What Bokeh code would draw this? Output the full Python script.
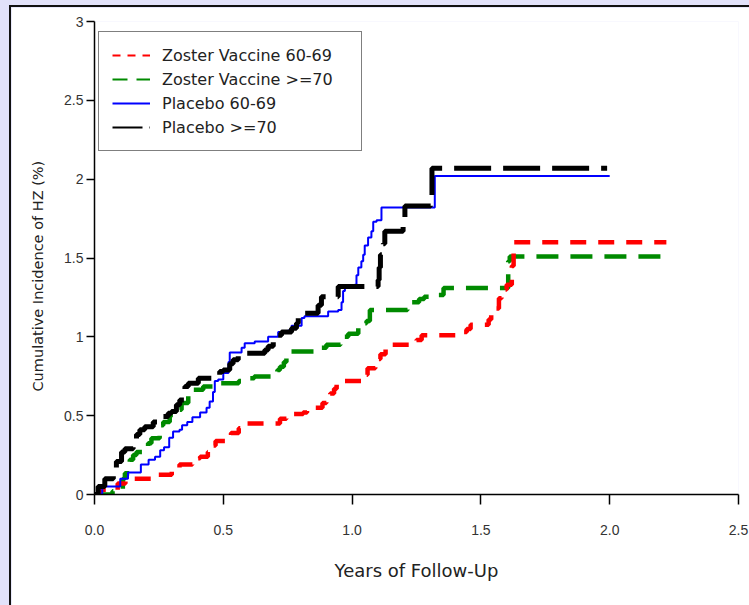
from bokeh.plotting import figure
from bokeh.models import Range1d, FixedTicker, Legend, LegendItem, GlobalInlineStyleSheet, Title
from bokeh.embed import file_html
from bokeh.resources import INLINE

# ---------------- data ----------------
x_ticks = [0.0, 0.5, 1.0, 1.5, 2.0, 2.5]
x_tick_labels = ["0.0", "0.5", "1.0", "1.5", "2.0", "2.5"]
y_ticks = [0, 0.5, 1, 1.5, 2, 2.5, 3]
y_tick_labels = ["0", "0.5", "1", "1.5", "2", "2.5", "3"]

x_title = "Years of Follow-Up"
y_title = "Cumulative Incidence of HZ (%)"

series_names = ["Zoster Vaccine 60-69", "Zoster Vaccine >=70", "Placebo 60-69", "Placebo >=70"]

# Zoster Vaccine 60-69 (years, cumulative %)
zv6069_x = [0, 0.02, 0.09, 0.12, 0.24, 0.30, 0.33, 0.38, 0.41, 0.44, 0.455, 0.47, 0.51, 0.53, 0.56,
            0.58, 0.72, 0.745, 0.81, 0.825, 0.885, 0.90, 0.915, 0.93, 0.94, 0.96, 1.04, 1.06, 1.09, 1.11,
            1.13, 1.145, 1.25, 1.27, 1.42, 1.445, 1.46, 1.53, 1.54, 1.56, 1.57, 1.58, 1.60, 1.62, 1.627, 2.22]
zv6069_y = [0, 0.03, 0.07, 0.10, 0.125, 0.17, 0.19, 0.23, 0.24, 0.27, 0.31, 0.34, 0.37, 0.39, 0.42,
            0.45, 0.48, 0.51, 0.52, 0.55, 0.58, 0.60, 0.64, 0.67, 0.70, 0.72, 0.76, 0.80, 0.86, 0.89,
            0.92, 0.95, 0.98, 1.01, 1.03, 1.05, 1.076, 1.11, 1.14, 1.18, 1.245, 1.30, 1.33, 1.45, 1.60, 1.60]

# Zoster Vaccine >=70
zv70_x = [0, 0.07, 0.11, 0.118, 0.137, 0.15, 0.163, 0.208, 0.221, 0.253, 0.267, 0.292, 0.325, 0.338, 0.364,
          0.377, 0.422, 0.461, 0.56, 0.575, 0.62, 0.685, 0.71, 0.72, 0.735, 0.745, 0.755, 0.88, 0.90, 0.955,
          0.971, 0.985, 1.024, 1.043, 1.056, 1.069, 1.215, 1.23, 1.26, 1.28, 1.33, 1.355, 1.606, 1.612, 2.22]
zv70_y = [0, 0.02, 0.10, 0.135, 0.22, 0.25, 0.27, 0.325, 0.357, 0.44, 0.46, 0.505, 0.537, 0.58, 0.632,
          0.664, 0.685, 0.706, 0.72, 0.737, 0.748, 0.77, 0.79, 0.81, 0.84, 0.875, 0.907, 0.93, 0.95, 0.96,
          1.00, 1.02, 1.055, 1.086, 1.10, 1.17, 1.20, 1.22, 1.24, 1.255, 1.266, 1.31, 1.48, 1.51, 1.51]

# Placebo 60-69
pl6069_x = [0, 0.03, 0.10, 0.13, 0.18, 0.21, 0.235, 0.255, 0.27, 0.29, 0.305, 0.33, 0.34, 0.36, 0.38,
            0.41, 0.435, 0.447, 0.46, 0.467, 0.48, 0.50, 0.52, 0.525, 0.571, 0.583, 0.622, 0.674, 0.713, 0.752,
            0.765, 0.804, 0.815, 0.907, 0.946, 0.959, 0.965, 0.972, 1.01, 1.017, 1.024, 1.036, 1.043, 1.049,
            1.062, 1.075, 1.082, 1.095, 1.114, 1.321, 2.0]
pl6069_y = [0, 0.05, 0.10, 0.14, 0.19, 0.22, 0.24, 0.28, 0.30, 0.36, 0.40, 0.41, 0.44, 0.46, 0.49,
            0.52, 0.55, 0.59, 0.65, 0.72, 0.73, 0.77, 0.84, 0.90, 0.93, 0.96, 0.97, 1.00, 1.03, 1.04,
            1.07, 1.12, 1.13, 1.16, 1.17, 1.22, 1.29, 1.31, 1.33, 1.39, 1.44, 1.48, 1.52, 1.58,
            1.63, 1.67, 1.73, 1.74, 1.82, 2.02, 2.02]

# Placebo >=70
pl70_x = [0, 0.014, 0.04, 0.073, 0.085, 0.105, 0.118, 0.15, 0.163, 0.176, 0.195, 0.228, 0.247, 0.267, 0.286,
          0.299, 0.318, 0.331, 0.351, 0.364, 0.403, 0.486, 0.5, 0.525, 0.538, 0.558, 0.583, 0.661, 0.674, 0.694,
          0.707, 0.726, 0.765, 0.784, 0.791, 0.81, 0.868, 0.881, 0.946, 1.101, 1.105, 1.11, 1.121, 1.127, 1.198,
          1.205, 1.305, 1.31, 1.99]
pl70_y = [0, 0.05, 0.10, 0.17, 0.21, 0.27, 0.29, 0.34, 0.38, 0.41, 0.43, 0.46, 0.475, 0.495, 0.515,
          0.526, 0.57, 0.60, 0.685, 0.706, 0.737, 0.78, 0.79, 0.83, 0.854, 0.886, 0.896, 0.917, 0.94, 0.97,
          1.01, 1.03, 1.055, 1.086, 1.14, 1.15, 1.20, 1.255, 1.32, 1.36, 1.44, 1.52, 1.59, 1.67, 1.75,
          1.83, 1.85, 2.07, 2.07]

# ---------------- figure ----------------
p = figure(
    frame_width=644, frame_height=473,
    min_border_left=82, min_border_right=12, min_border_top=14, min_border_bottom=111,
    x_range=Range1d(0, 2.5), y_range=Range1d(0, 3),
    output_backend="svg", toolbar_location=None,
)
p.stylesheets = [GlobalInlineStyleSheet(css="html, body { background: #e2e2fa; overflow: hidden; }")]
p.styles = {"margin-left": "9px", "margin-top": "5px",
            "border-left": "2px solid #111", "border-top": "2px solid #111"}
p.background_fill_color = "white"
p.border_fill_color = "white"
p.outline_line_color = None
p.xgrid.visible = False
p.ygrid.visible = False

FONT = "DejaVu Sans"
TICKFONT = "Liberation Sans"

xa = p.xaxis[0]
xa.ticker = FixedTicker(ticks=x_ticks)
xa.major_label_overrides = {t: l for t, l in zip(x_ticks, x_tick_labels)}
xa.minor_tick_line_color = None
xa.major_tick_out = 10
xa.major_tick_in = 0
xa.axis_line_width = 1.5
xa.major_tick_line_width = 1.5
xa.major_label_standoff = 20
xa.major_label_text_font = TICKFONT
xa.major_label_text_font_size = "14px"
xa.major_label_text_color = "#333333"
xa.axis_label = x_title
xa.axis_label_text_font = FONT
xa.axis_label_text_font_size = "18px"
xa.axis_label_text_font_style = "normal"
xa.axis_label_text_color = "#222222"
xa.axis_label_standoff = 22

ya = p.yaxis[0]
ya.ticker = FixedTicker(ticks=y_ticks)
ya.major_label_overrides = {t: l for t, l in zip(y_ticks, y_tick_labels)}
ya.minor_tick_line_color = None
ya.major_tick_out = 8
ya.major_tick_in = 0
ya.axis_line_width = 1.5
ya.major_tick_line_width = 1.5
ya.major_label_standoff = 3
ya.major_label_text_font = TICKFONT
ya.major_label_text_font_size = "14px"
ya.major_label_text_color = "#333333"

# y-axis title: starts ~103px above the x axis, as in the reference
ytitle = Title(text=y_title, align="left", offset=103, standoff=32,
               text_font=FONT, text_font_size="14.5px", text_font_style="normal",
               text_color="#222222")
p.add_layout(ytitle, "left")

# curves
p.step(zv70_x, zv70_y, mode="after", line_color="#008a00", line_width=4.5, line_dash="22 12")
p.step(zv6069_x, zv6069_y, mode="after", line_color="#ff0000", line_width=4.5, line_dash="16 12")
p.step(pl6069_x, pl6069_y, mode="after", line_color="#0000ff", line_width=2)
p.step(pl70_x, pl70_y, mode="after", line_color="black", line_width=5, line_dash="37 12")

# thin legend proxies (single point -> nothing drawn in the plot)
r1 = p.line(zv6069_x[:1], zv6069_y[:1], line_color="#ff0000", line_width=2, line_dash="8 7")
r2 = p.line(zv70_x[:1], zv70_y[:1], line_color="#008a00", line_width=2, line_dash="15 9")
r3 = p.line(pl6069_x[:1], pl6069_y[:1], line_color="#0000ff", line_width=2)
r4 = p.line(pl70_x[:1], pl70_y[:1], line_color="black", line_width=2, line_dash="30 7 3 7")

legend = Legend(
    items=[LegendItem(label=n, renderers=[r]) for n, r in zip(series_names, [r1, r2, r3, r4])],
    location=(4, 343),
    border_line_color="black", border_line_width=1.5,
    background_fill_color="white", background_fill_alpha=1,
    padding=13, spacing=4, glyph_width=38, glyph_height=20, label_height=20,
    label_width=186, label_standoff=12, margin=0,
    label_text_font=FONT, label_text_font_size="16px", label_text_color="#222222",
)
p.add_layout(legend, "center")

open("out.html", "w").write(file_html(p, INLINE))
